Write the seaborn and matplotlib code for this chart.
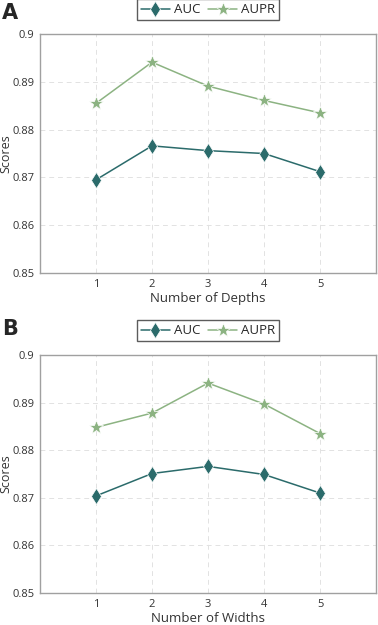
import pandas as pd
import matplotlib.pyplot as plt
import seaborn as sns

# data
x_vals = [1, 2, 3, 4, 5]
depth_auc = [0.8695, 0.8766, 0.8756, 0.8750, 0.8712]
depth_aupr = [0.8855, 0.8941, 0.8891, 0.8861, 0.8835]
width_auc = [0.8704, 0.8751, 0.8766, 0.8749, 0.8710]
width_aupr = [0.8848, 0.8878, 0.8941, 0.8897, 0.8835]
y_ticks = [0.85, 0.86, 0.87, 0.88, 0.89, 0.9]
y_ticklabels = ['0.85', '0.86', '0.87', '0.88', '0.89', '0.9']

sns.set_style('white')
plt.rcParams['font.family'] = ['Open Sans', 'DejaVu Sans']

auc_color = '#2b6b6b'
aupr_color = '#8cb382'
spine_color = '#a0a0a0'

fig = plt.figure(figsize=(3.78, 6.25), dpi=100)
ax_a = fig.add_axes([0.1058, 0.5632, 0.889, 0.3824])
ax_b = fig.add_axes([0.1058, 0.0512, 0.889, 0.3808])


def draw_panel(ax, auc, aupr, xlabel):
    df = pd.DataFrame({'x': x_vals * 2, 'score': auc + aupr,
                       'metric': ['AUC'] * 5 + ['AUPR'] * 5})
    sns.lineplot(data=df, x='x', y='score', hue='metric', style='metric',
                 markers={'AUC': 'd', 'AUPR': '*'}, dashes=False,
                 palette={'AUC': auc_color, 'AUPR': aupr_color},
                 markersize=8.5, linewidth=1.1, markeredgewidth=0.5, ax=ax)
    # star reads smaller than diamond at the same size
    for ln in ax.lines:
        if ln.get_marker() == '*':
            ln.set_markersize(10.5)
    ax.set_xlim(0, 6)
    ax.set_ylim(0.85, 0.9)
    ax.set_xticks(x_vals)
    ax.set_yticks(y_ticks)
    ax.set_yticklabels(y_ticklabels)
    ax.grid(True, linestyle=(0, (5, 4)), color='#e2e2e2', linewidth=0.7)
    ax.tick_params(direction='in', length=3, colors=spine_color,
                   labelcolor='#333333', labelsize=8, pad=4)
    for s in ax.spines.values():
        s.set_color(spine_color)
        s.set_linewidth(1.0)
    ax.set_xlabel(xlabel, fontsize=9.5, color='#333333', labelpad=2)
    ax.set_ylabel('Scores', fontsize=9, color='#333333')
    ax.yaxis.set_label_coords(-0.082, 0.5)
    handles, labels = ax.get_legend_handles_labels()
    for h in handles:
        if h.get_marker() == '*':
            h.set_markersize(10.5)
    ax.legend(handles, labels, loc='lower center', bbox_to_anchor=(0.5, 1.03),
              ncol=2, frameon=True, fancybox=False, edgecolor='#333333',
              fontsize=9.5, handlelength=2.2, columnspacing=0.6,
              handletextpad=0.3, borderpad=0.3)


draw_panel(ax_a, depth_auc, depth_aupr, 'Number of Depths')
draw_panel(ax_b, width_auc, width_aupr, 'Number of Widths')

fig.text(0.005, 0.995, 'A', fontsize=15, fontweight='bold', va='top', family='DejaVu Sans')
fig.text(0.005, 0.49, 'B', fontsize=15, fontweight='bold', va='top', family='DejaVu Sans')

plt.savefig('out.png', dpi=100)
